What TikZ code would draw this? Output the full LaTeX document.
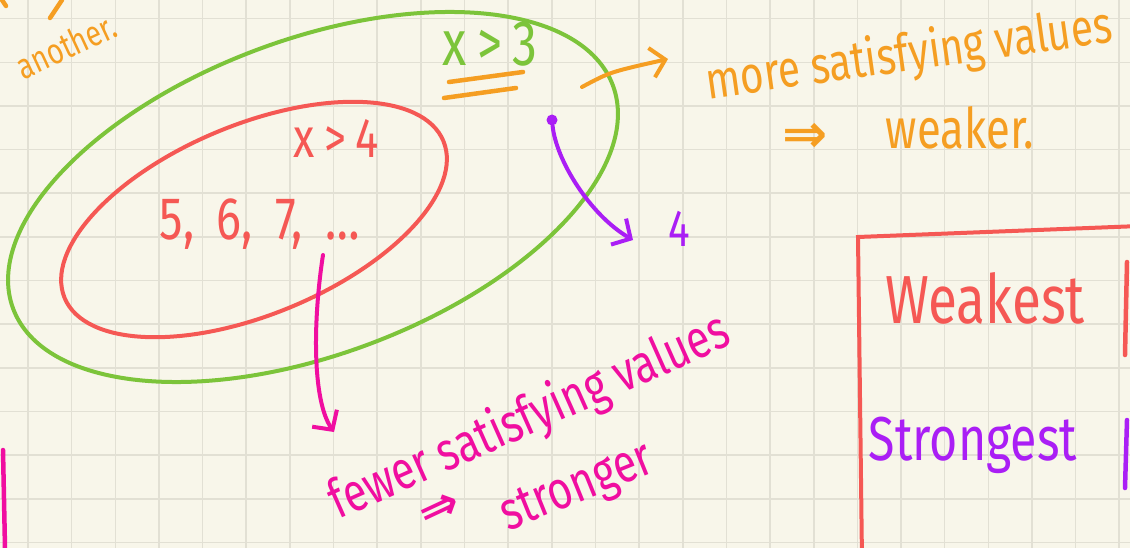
\documentclass[tikz,border=0pt]{standalone}
\usepackage{fontspec}
\newfontfamily\handfont[FakeStretch=0.78]{Fira Sans}
\newfontfamily\arrowfont{DejaVu Sans}
\usetikzlibrary{shapes.geometric, arrows.meta}

\definecolor{paper}{RGB}{248,246,234}
\definecolor{gridgray}{RGB}{226,224,212}
\definecolor{setgreen}{RGB}{124,196,58}
\definecolor{setred}{RGB}{245,88,84}
\definecolor{inkorange}{RGB}{245,158,34}
\definecolor{inkpurple}{RGB}{170,30,245}
\definecolor{inkpink}{RGB}{240,14,160}

\begin{document}
\begin{tikzpicture}[x=1pt, y=-1pt,
    gridline/.style={draw=gridgray, line width=1.6pt},
    setring/.style={ellipse, draw, line width=4pt, inner sep=0pt},
    note/.style={font=\handfont\fontsize{#1}{#1}\selectfont, inner sep=0pt},
    note/.default=44,
    implies/.style={font=\arrowfont\bfseries\fontsize{#1}{#1}\selectfont, inner sep=0pt},
    inkline/.style={line width=4.5pt, line cap=round},
    inkarrow/.style={-{Straight Barb[length=14pt, width=30pt]}, line width=4pt, line cap=round}]

    \useasboundingbox (0,0) rectangle (1130,548);
    \clip (0,0) rectangle (1130,548);
    \fill[paper] (0,0) rectangle (1130,548);
    \foreach \i in {0,...,25}
        \draw[gridline] ({28+43.65*\i},0) -- ({28+43.65*\i},548);
    \foreach \j in {0,...,12}
        \draw[gridline] (0,{18.7+43.65*\j}) -- (1130,{18.7+43.65*\j});

    \node[setring, draw=setgreen, minimum width=640pt, minimum height=315pt, rotate=20.4] (greenset) at (313,197) {};
    \node[setring, draw=setred, minimum width=410pt, minimum height=190pt, rotate=22.5] (redset) at (254,219.5) {};

    \node[note=64, text=setgreen] (gtthree) at (490,44) {x\,>\,3};
    \draw[inkline, inkorange] (449,82) -- (523,72);
    \draw[inkline, inkorange] (444,98) -- (516,88);
    \node[note=56, text=setred] (gtfour) at (336,138) {x\,>\,4};
    \node[note=60, text=setred] (members) at (260,224) {5,\, 6,\, 7,\, \dots};

    \node[circle, fill=inkpurple, minimum size=11pt, inner sep=0pt] (dot) at (552,120) {};
    \node[note=52, text=inkpurple] (four) at (679,229) {4};
    \coordinate (fourtip) at (633,240);

    \node[note=36, text=inkorange, rotate=25] (another) at (66,46) {another.};
    \coordinate (greentail) at (582,87);
    \coordinate (greenhead) at (668,59);
    \node[note=52, text=inkorange, rotate=8] (more) at (909,56) {more satisfying values};
    \node[implies=54, text=inkorange] (weakimp) at (805,138) {⇒};
    \node[note=56, text=inkorange] (weaker) at (960,128) {weaker.};

    \coordinate (redtail) at (323,255);
    \coordinate (redhead) at (334,432);
    \node[note=54, text=inkpink, rotate=24] (fewer) at (530,418) {fewer satisfying values};
    \node[implies=48, text=inkpink, rotate=25] (strongimp) at (440,510) {⇒};
    \node[note=54, text=inkpink, rotate=22] (stronger) at (578,490) {stronger};

    \draw[setred, line width=4pt, line cap=round] (862,560) -- (858,237) -- (1140,226);
    \node[note=68, text=setred, anchor=base] (weakest) at (985,323) {Weakest};
    \node[note=62, text=inkpurple, anchor=base] (strongest) at (973,460) {Strongest};
    \draw[inkline, setred] (1127,262) -- (1125,355);
    \draw[inkline, inkpurple] (1127,420) -- (1125,488);
    \draw[inkline, inkorange] (2,0) -- (6,6);
    \draw[inkline, inkorange] (62,0) -- (50,18);
    \draw[inkline, inkpink] (3,450) -- (5,548);

    \draw[inkarrow, inkorange] (greentail) .. controls (610,72) .. (greenhead);
    \draw[inkarrow, inkpurple] (dot) .. controls (556,160) and (590,215) .. (fourtip);
    \draw[inkarrow, inkpink] (redtail) .. controls (313,320) and (312,400) .. (redhead);
\end{tikzpicture}
\end{document}
